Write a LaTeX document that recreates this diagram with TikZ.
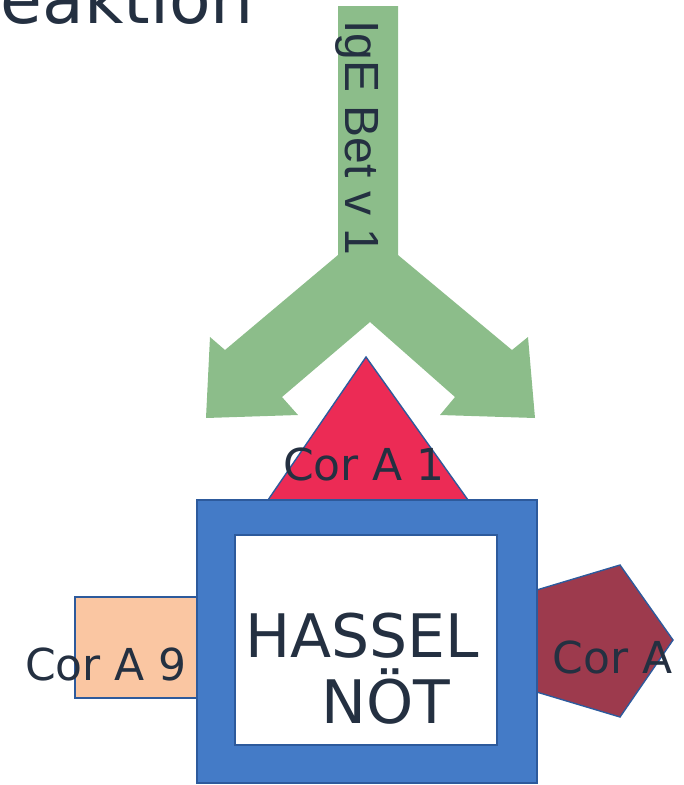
\documentclass[tikz,border=0pt]{standalone}
\usepackage{fontspec}
\setmainfont{DejaVu Sans}
\newfontfamily\igefont{Liberation Sans}
\usetikzlibrary{positioning}
\definecolor{cgreen}{HTML}{8CBD8A}
\definecolor{cred}{HTML}{EC2B55}
\definecolor{cblue}{HTML}{447BC7}
\definecolor{cedge}{HTML}{2D5A9C}
\definecolor{cpeach}{HTML}{FAC6A2}
\definecolor{cwine}{HTML}{9D3A4D}
\definecolor{cink}{HTML}{243041}
\tikzset{
  every picture/.style={line width=1.2pt},
  piece/.style={draw=cedge, line width=1.4pt, line join=miter},
  word/.style={text=cink, inner sep=0pt, anchor=base, font=\fontsize{#1}{#1}\selectfont},
  word/.default=40,
}

\begin{document}
\begin{tikzpicture}[x=1pt, y=-1pt]
  \useasboundingbox (0,0) rectangle (684,785);
  \clip (0,0) rectangle (684,785);
  % title, cut by the top edge
  \node[word=68, anchor=base west] (title) at (0,23) {eaktion};
  % IgE antibody
  \fill[cgreen] (338,6) -- (398,6) -- (398,255) -- (512,350) -- (528,337) -- (535,418)
    -- (440,415) -- (455,397) -- (370,322) -- (282,397) -- (298,415) -- (206,418)
    -- (210,337) -- (225,350) -- (338,255) -- cycle;
  \node[word=48, rotate=-90] (ige) at (345,138) {\igefont IgE Bet v 1};
  % allergens
  \draw[piece, fill=cred] (268,500) -- (366,357) -- (468,500) -- cycle;
  \draw[piece, fill=cpeach] (75,597) rectangle (200,698);
  \draw[piece, fill=cwine] (530,592) -- (620,565) -- (673,640) -- (620,717) -- (530,690) -- cycle;
  % the nut
  \draw[piece, fill=cblue] (197,500) rectangle (537,783);
  \draw[piece, fill=white] (235,535) rectangle (497,745);
  \node[word=60] (hassel) at (362,657) {HASSEL};
  \node[word=60] (noet) at (386,723) {NÖT};
  \node[word=44] (cor1) at (364,480) {Cor A 1};
  \node[word=44] (cor9) at (106,680) {Cor A 9};
  \node[word=44, anchor=base west] (cor8) at (552,673) {Cor A};
\end{tikzpicture}
\end{document}
